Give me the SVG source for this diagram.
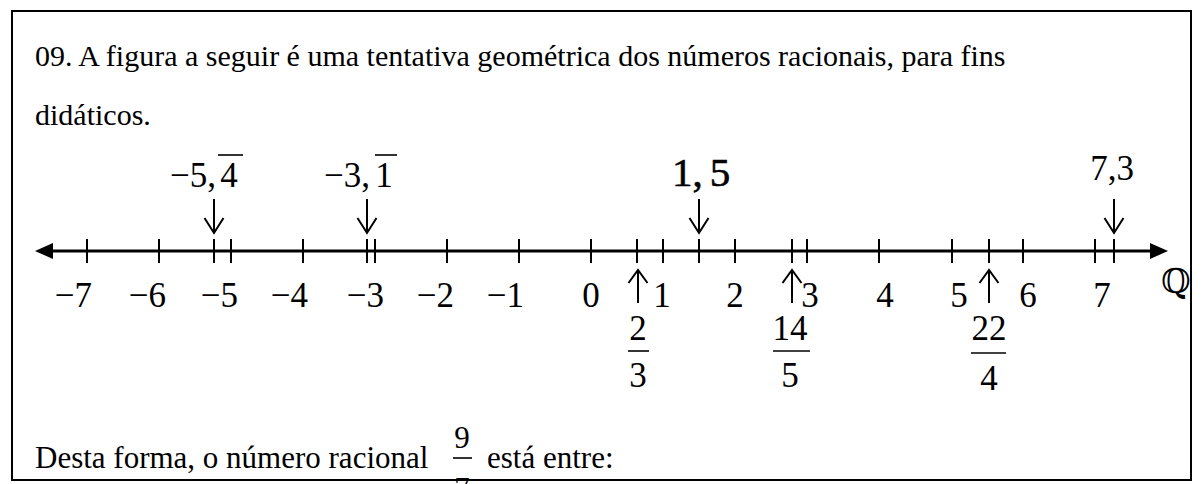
<svg xmlns="http://www.w3.org/2000/svg" width="1203" height="484" viewBox="0 0 1203 484">
<style>
  .t { font-family: "Liberation Serif", "Times New Roman", serif; fill: #000; }
  .body { font-size: 30px; }
  .foot { font-size: 31px; }
  .lab { font-size: 35px; }
  .top { font-size: 35px; }
  .tick { stroke: #000; stroke-width: 2; }
  .arr { stroke: #000; stroke-width: 2; fill: none; }
  .bar { stroke: #000; stroke-width: 1.6; }
</style>
<rect x="0" y="0" width="1203" height="484" fill="#fff"/>
<rect x="12" y="11" width="1179" height="469" fill="none" stroke="#000" stroke-width="2"/>

<g id="header">
  <text class="t body" x="35" y="66">09. A figura a seguir é uma tentativa geométrica dos números racionais, para fins</text>
  <text class="t body" x="35" y="125">didáticos.</text>
</g>

<g id="connectors">
  <line x1="48" y1="251" x2="1156" y2="251" stroke="#000" stroke-width="3"/>
  <polygon points="35,251 53,243 53,259" fill="#000"/>
  <polygon points="1168,251 1150,243 1150,259" fill="#000"/>
  <g id="ticks">
    <line class="tick" x1="87" y1="239" x2="87" y2="263"/>
    <line class="tick" x1="159" y1="239" x2="159" y2="263"/>
    <line class="tick" x1="214" y1="239" x2="214" y2="263"/>
    <line class="tick" x1="231" y1="239" x2="231" y2="263"/>
    <line class="tick" x1="303" y1="239" x2="303" y2="263"/>
    <line class="tick" x1="367" y1="239" x2="367" y2="263"/>
    <line class="tick" x1="375" y1="239" x2="375" y2="263"/>
    <line class="tick" x1="447" y1="239" x2="447" y2="263"/>
    <line class="tick" x1="519" y1="239" x2="519" y2="263"/>
    <line class="tick" x1="591" y1="239" x2="591" y2="263"/>
    <line class="tick" x1="637" y1="239" x2="637" y2="263"/>
    <line class="tick" x1="663" y1="239" x2="663" y2="263"/>
    <line class="tick" x1="699" y1="239" x2="699" y2="263"/>
    <line class="tick" x1="735" y1="239" x2="735" y2="263"/>
    <line class="tick" x1="792" y1="239" x2="792" y2="263"/>
    <line class="tick" x1="807" y1="239" x2="807" y2="263"/>
    <line class="tick" x1="879" y1="239" x2="879" y2="263"/>
    <line class="tick" x1="952" y1="239" x2="952" y2="263"/>
    <line class="tick" x1="989" y1="239" x2="989" y2="263"/>
    <line class="tick" x1="1023" y1="239" x2="1023" y2="263"/>
    <line class="tick" x1="1095" y1="239" x2="1095" y2="263"/>
    <line class="tick" x1="1114" y1="239" x2="1114" y2="263"/>
  </g>
  <g id="down-arrows">
    <path class="arr" d="M214,199 V233 M204.5,218 L214,233 L223.5,218"/>
    <path class="arr" d="M367,199 V233 M357.5,218 L367,233 L376.5,218"/>
    <path class="arr" d="M699,199 V233 M689.5,218 L699,233 L708.5,218"/>
    <path class="arr" d="M1114,199 V233 M1104.5,218 L1114,233 L1123.5,218"/>
  </g>
  <g id="up-arrows">
    <path class="arr" d="M638,303 V270 M628.5,283 L638,270 L647.5,283"/>
    <path class="arr" d="M792,303 V270 M782.5,283 L792,270 L801.5,283"/>
    <path class="arr" d="M989,303 V270 M979.5,283 L989,270 L998.5,283"/>
  </g>
</g>

<g id="top-labels">
  <g id="lab-m5-4">
    <text class="t top" x="216" y="187" text-anchor="end">−5,</text>
    <text class="t top" x="229" y="187" text-anchor="middle">4</text>
    <line class="bar" x1="218" y1="155" x2="243" y2="155"/>
  </g>
  <g id="lab-m3-1">
    <text class="t top" x="370" y="187" text-anchor="end">−3,</text>
    <text class="t top" x="384" y="187" text-anchor="middle">1</text>
    <line class="bar" x1="375" y1="155" x2="397" y2="155"/>
  </g>
  <g id="lab-1-5">
    <text class="t" x="672" y="186" font-size="41" stroke="#000" stroke-width="0.6">1,<tspan dx="7">5</tspan></text>
  </g>
  <g id="lab-7-3">
    <text class="t top" x="1112" y="180" text-anchor="middle">7,3</text>
  </g>
</g>

<g id="bottom-labels">
  <text class="t lab" x="92" y="307" text-anchor="end">−7</text>
  <text class="t lab" x="166" y="307" text-anchor="end">−6</text>
  <text class="t lab" x="238" y="307" text-anchor="end">−5</text>
  <text class="t lab" x="308" y="307" text-anchor="end">−4</text>
  <text class="t lab" x="384" y="307" text-anchor="end">−3</text>
  <text class="t lab" x="454" y="307" text-anchor="end">−2</text>
  <text class="t lab" x="524" y="307" text-anchor="end">−1</text>
  <text class="t lab" x="591" y="307" text-anchor="middle">0</text>
  <text class="t lab" x="662" y="307" text-anchor="middle">1</text>
  <text class="t lab" x="735" y="307" text-anchor="middle">2</text>
  <text class="t lab" x="810" y="307" text-anchor="middle">3</text>
  <text class="t lab" x="885" y="307" text-anchor="middle">4</text>
  <text class="t lab" x="959" y="307" text-anchor="middle">5</text>
  <text class="t lab" x="1028" y="307" text-anchor="middle">6</text>
  <text class="t lab" x="1102" y="307" text-anchor="middle">7</text>
  <text x="1176" y="293" text-anchor="middle" font-family="DejaVu Serif, serif" font-size="34">ℚ</text>
</g>

<g id="fractions">
  <g id="frac-2-3">
    <text class="t lab" x="638" y="340" text-anchor="middle">2</text>
    <line class="bar" x1="628" y1="351" x2="649" y2="351"/>
    <text class="t lab" x="638" y="387" text-anchor="middle">3</text>
  </g>
  <g id="frac-14-5">
    <text class="t lab" x="790" y="340" text-anchor="middle">14</text>
    <line class="bar" x1="773" y1="351" x2="810" y2="351"/>
    <text class="t lab" x="790" y="387" text-anchor="middle">5</text>
  </g>
  <g id="frac-22-4">
    <text class="t lab" x="989" y="340" text-anchor="middle">22</text>
    <line class="bar" x1="971" y1="353" x2="1006" y2="353"/>
    <text class="t lab" x="989" y="390" text-anchor="middle">4</text>
  </g>
</g>

<g id="footer">
  <text class="t foot" x="35" y="468">Desta forma, o número racional</text>
  <text class="t" x="462" y="448" font-size="31" text-anchor="middle">9</text>
  <line class="bar" x1="453" y1="458" x2="472" y2="458"/>
  <text class="t" x="462" y="499" font-size="31" text-anchor="middle">7</text>
  <text class="t foot" x="487" y="468">está entre:</text>
</g>
</svg>
